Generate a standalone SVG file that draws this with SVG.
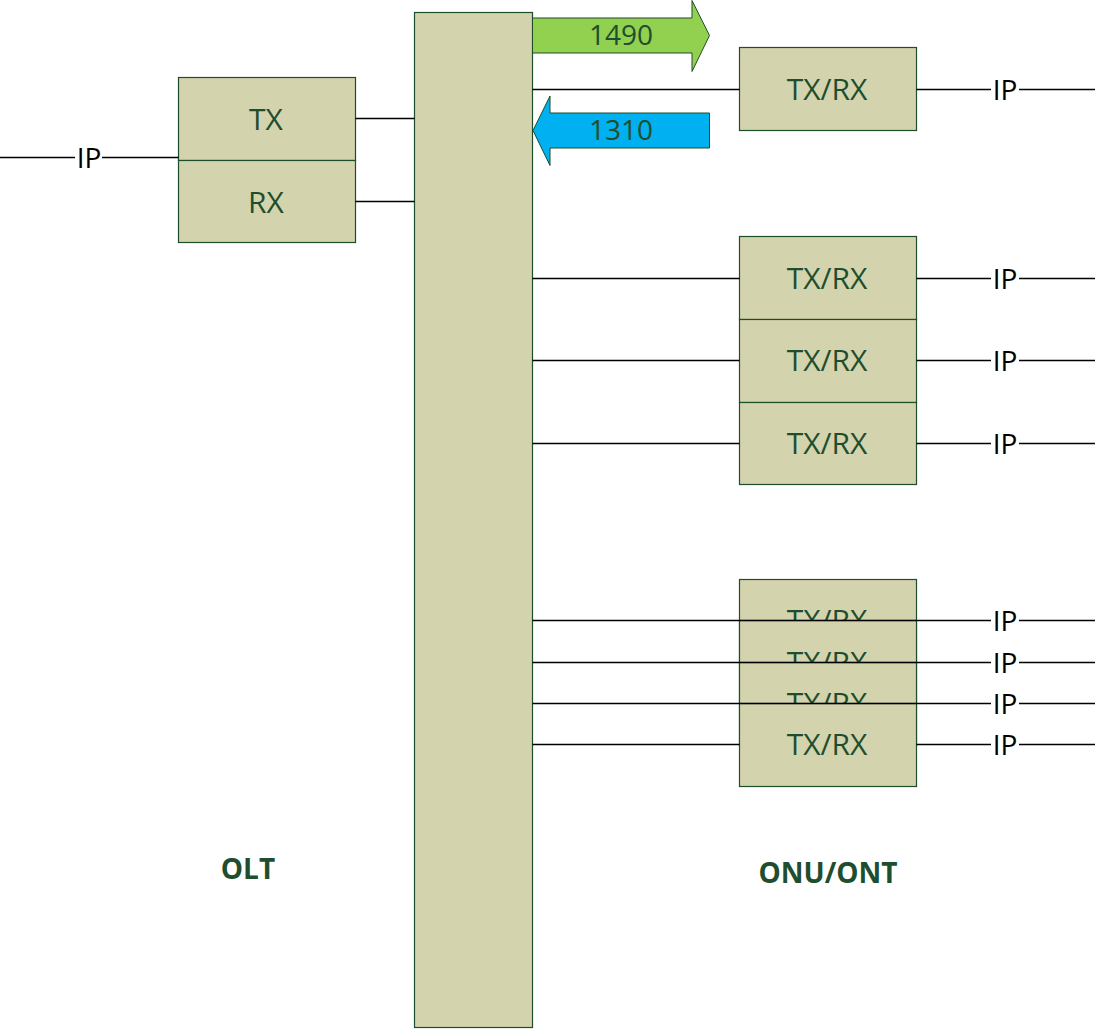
<svg xmlns="http://www.w3.org/2000/svg" width="1095" height="1029" viewBox="0 0 1095 1029">
<style>
.box{fill:#d3d3ad;stroke:#1e4d2b;stroke-width:1.2}
.t{font-family:"Open Sans","Noto Sans",sans-serif;font-size:30px;fill:#1e4e2e;text-anchor:middle}
.n{font-family:"Open Sans","Noto Sans",sans-serif;font-size:28px;fill:#1e4e2e;text-anchor:middle}
.ip{font-family:"Open Sans","Noto Sans",sans-serif;font-size:28px;fill:#000;text-anchor:middle}
.lbl{font-family:"Open Sans","Noto Sans",sans-serif;font-size:28px;font-weight:bold;fill:#1e4e2e;text-anchor:middle}
.c{stroke:#000;stroke-width:1.3;fill:none}
</style>
<rect width="1095" height="1029" fill="#fff"/>
<g id="splitter"><rect class="box" x="414.5" y="12.5" width="118" height="1015"/></g>
<g id="olt-tx"><rect class="box" x="178.5" y="77.5" width="177" height="83"/><text class="t" x="266" y="130">TX</text></g>
<g id="olt-rx"><rect class="box" x="178.5" y="160.5" width="177" height="82"/><text class="t" x="266" y="213">RX</text></g>
<g id="arrow-1490"><path d="M532.5 18 H692 V0.5 L709.5 35.5 L692 71.5 V53 H532.5 Z" fill="#92d050" stroke="#1e4d2b" stroke-width="1"/><text class="n" x="621" y="45">1490</text></g>
<g id="arrow-1310"><path d="M709.5 113 H550 V96 L533 130.5 L550 165.5 V148 H709.5 Z" fill="#00b0f0" stroke="#1e4d2b" stroke-width="1"/><text class="n" x="621" y="140">1310</text></g>
<g id="onu-1"><rect class="box" x="739.5" y="47.5" width="177" height="83"/><text class="t" x="827" y="100">TX/RX</text></g>
<g id="onu-2"><rect class="box" x="739.5" y="236.5" width="177" height="83"/><text class="t" x="827" y="289">TX/RX</text></g>
<g id="onu-3"><rect class="box" x="739.5" y="319.5" width="177" height="83"/><text class="t" x="827" y="371">TX/RX</text></g>
<g id="onu-4"><rect class="box" x="739.5" y="402.5" width="177" height="82"/><text class="t" x="827" y="454">TX/RX</text></g>
<g id="onu-5"><rect class="box" x="739.5" y="579.5" width="177" height="83"/><text class="t" x="827" y="631">TX/RX</text></g>
<g id="onu-6"><rect class="box" x="739.5" y="620.5" width="177" height="83"/><text class="t" x="827" y="673">TX/RX</text></g>
<g id="onu-7"><rect class="box" x="739.5" y="662.5" width="177" height="83"/><text class="t" x="827" y="714">TX/RX</text></g>
<g id="onu-8"><rect class="box" x="739.5" y="703.5" width="177" height="83"/><text class="t" x="827" y="755">TX/RX</text></g>
<g id="connectors">
<path class="c" d="M0 157.5 H75 M102 157.5 H178.5"/>
<path class="c" d="M355.5 118.5 H414.5 M355.5 201.5 H414.5"/>
<path class="c" d="M532.5 89.5 H739.5 M916.5 89.5 H991 M1019 89.5 H1095"/>
<path class="c" d="M532.5 278.5 H739.5 M916.5 278.5 H991 M1019 278.5 H1095"/>
<path class="c" d="M532.5 360.5 H739.5 M916.5 360.5 H991 M1019 360.5 H1095"/>
<path class="c" d="M532.5 443.5 H739.5 M916.5 443.5 H991 M1019 443.5 H1095"/>
<path class="c" d="M532.5 620.5 H991 M1019 620.5 H1095"/>
<path class="c" d="M532.5 662.5 H991 M1019 662.5 H1095"/>
<path class="c" d="M532.5 703.5 H991 M1019 703.5 H1095"/>
<path class="c" d="M532.5 744.5 H739.5 M916.5 744.5 H991 M1019 744.5 H1095"/>
</g>
<g id="ip-labels">
<text class="ip" x="89" y="168">IP</text>
<text class="ip" x="1005" y="100">IP</text>
<text class="ip" x="1005" y="289">IP</text>
<text class="ip" x="1005" y="371">IP</text>
<text class="ip" x="1005" y="454">IP</text>
<text class="ip" x="1005" y="631">IP</text>
<text class="ip" x="1005" y="673">IP</text>
<text class="ip" x="1005" y="714">IP</text>
<text class="ip" x="1005" y="755">IP</text>
</g>
<g id="titles">
<text class="lbl" x="248" y="879">OLT</text>
<text class="lbl" x="828" y="883">ONU/ONT</text>
</g>
</svg>
